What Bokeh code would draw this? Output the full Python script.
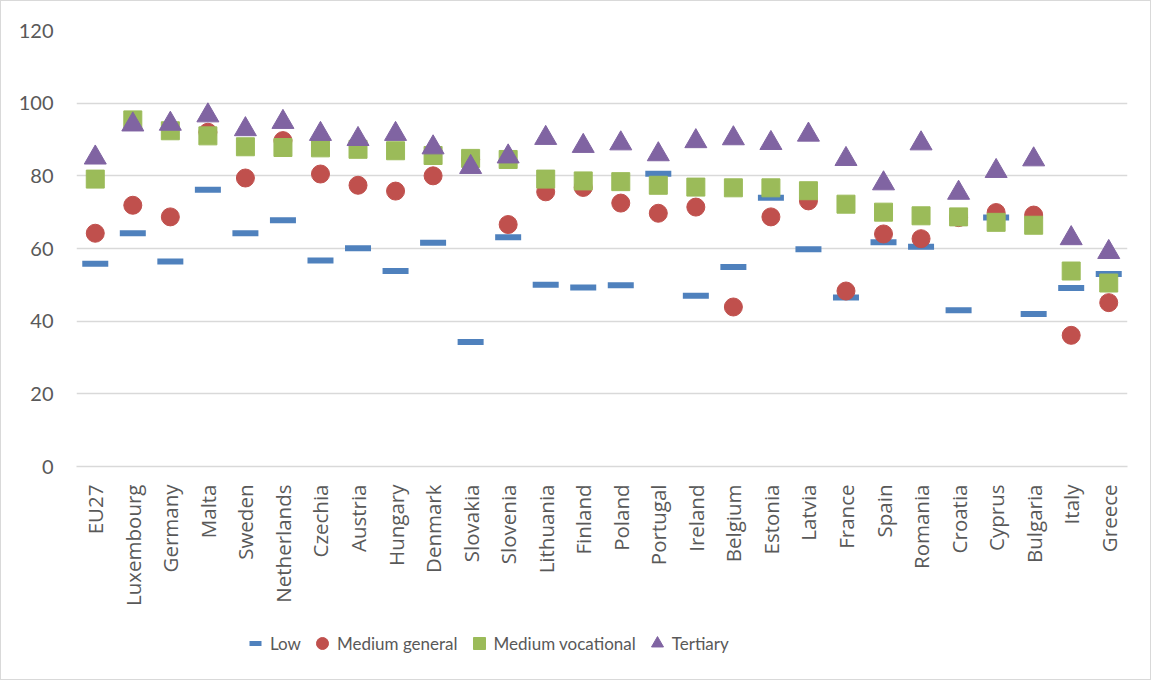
from math import pi
from bokeh.plotting import figure
from bokeh.layouts import column
from bokeh.models import ColumnDataSource, Range1d, FactorRange, Legend, LegendItem, FixedTicker
from bokeh.embed import file_html
from bokeh.resources import INLINE

countries = ["EU27", "Luxembourg", "Germany", "Malta", "Sweden", "Netherlands", "Czechia",
             "Austria", "Hungary", "Denmark", "Slovakia", "Slovenia", "Lithuania", "Finland",
             "Poland", "Portugal", "Ireland", "Belgium", "Estonia", "Latvia", "France", "Spain",
             "Romania", "Croatia", "Cyprus", "Bulgaria", "Italy", "Greece"]

low = [55.8, 64.2, 56.4, 76.2, 64.2, 67.8, 56.7, 60.1, 53.8, 61.6, 34.3, 63.1, 50.0, 49.3,
       49.9, 80.6, 47.0, 54.9, 74.0, 59.8, 46.5, 61.7, 60.5, 43.0, 68.5, 42.0, 49.1, 53.0]
medium_general = [64.2, 71.9, 68.7, 92.0, 79.4, 89.7, 80.5, 77.4, 75.8, 80.0, 84.5, 66.6, 75.6, 76.8,
                  72.5, 69.7, 71.4, 43.9, 68.7, 73.1, 48.3, 64.0, 62.7, 68.5, 69.9, 69.2, 36.1, 45.1]
medium_vocational = [79.1, 95.4, 92.4, 91.0, 88.0, 87.8, 87.7, 87.3, 86.9, 85.6, 84.8, 84.5, 79.1, 78.6,
                     78.4, 77.4, 76.9, 76.7, 76.7, 75.9, 72.2, 70.0, 69.0, 68.7, 67.2, 66.4, 53.8, 50.5]
tertiary = [85.0, 94.1, 94.3, 96.6, 92.8, 94.8, 91.5, 90.1, 91.5, 87.8, 82.4, 85.3, 90.4, 88.2,
            88.9, 85.9, 89.5, 90.3, 89.0, 91.3, 84.6, 77.9, 88.9, 75.3, 81.3, 84.5, 62.8, 59.0]
y_ticks = [0, 20, 40, 60, 80, 100, 120]
series_names = ["Low", "Medium general", "Medium vocational", "Tertiary"]

TXT = "#595959"
GRID = "#D9D9D9"
C_LOW, C_MG, C_MV, C_TER = "#4F81BD", "#C0504D", "#9BBB59", "#8064A2"

src = ColumnDataSource(dict(country=countries, low=low, mg=medium_general,
                            mv=medium_vocational, ter=tertiary))

p = figure(width=1149, height=607,
           x_range=FactorRange(*countries, range_padding=0),
           y_range=Range1d(0, 120),
           output_backend="svg", toolbar_location=None,
           min_border_left=75, min_border_right=23, min_border_top=29, min_border_bottom=136)
p.outline_line_color = None
p.background_fill_color = "white"

p.xgrid.visible = False
p.ygrid.grid_line_color = GRID
p.ygrid.grid_line_width = 1.3

p.yaxis.ticker = FixedTicker(ticks=y_ticks)
p.yaxis.axis_line_color = None
p.yaxis.major_tick_line_color = None
p.yaxis.minor_tick_line_color = None
p.yaxis.major_label_standoff = 17
p.yaxis.major_label_text_font = "Lato"
p.yaxis.major_label_text_font_size = "20px"
p.yaxis.major_label_text_color = TXT

p.xaxis.axis_line_color = GRID
p.xaxis.axis_line_width = 1.3
p.xaxis.major_tick_line_color = None
p.xaxis.minor_tick_line_color = None
p.xaxis.major_label_orientation = pi / 2
p.xaxis.major_label_standoff = 12
p.xaxis.major_label_text_font = "Open Sans"
p.xaxis.major_label_text_font_size = "20.5px"
p.xaxis.major_label_text_color = TXT

p.scatter(x="country", y="low", source=src, marker="dash", size=26, line_width=6, line_color=C_LOW)
p.scatter(x="country", y="mg", source=src, marker="circle", size=18, fill_color=C_MG, line_color=C_MG)
p.scatter(x="country", y="mv", source=src, marker="square", size=18, fill_color=C_MV, line_color=C_MV)
p.scatter(x="country", y="ter", source=src, marker="triangle", size=22, fill_color=C_TER, line_color=C_TER)

# legend strip (legend-only glyphs, no visible data points)
lg = figure(width=1149, height=71, x_range=Range1d(0, 1), y_range=Range1d(0, 1),
            x_axis_type=None, y_axis_type=None, output_backend="svg", toolbar_location=None,
            min_border=0)
lg.outline_line_color = None
lg.xgrid.visible = False
lg.ygrid.visible = False
nan = float("nan")


def _src():
    return ColumnDataSource(dict(x=[nan], y=[nan]))


g_low = lg.scatter(x="x", y="y", source=_src(), marker="dash", size=26, line_width=5, line_color=C_LOW)
g_mg = lg.scatter(x="x", y="y", source=_src(), marker="circle", size=18, fill_color=C_MG, line_color=C_MG)
g_mv = lg.scatter(x="x", y="y", source=_src(), marker="square", size=18, fill_color=C_MV, line_color=C_MV)
g_ter = lg.scatter(x="x", y="y", source=_src(), marker="triangle", size=22, fill_color=C_TER, line_color=C_TER)

legend = Legend(items=[LegendItem(label=n, renderers=[r]) for n, r in
                       zip(series_names, [g_low, g_mg, g_mv, g_ter])],
                orientation="horizontal", location=(164, 21),
                glyph_width=30, glyph_height=30, label_standoff=0, spacing=6,
                padding=0, margin=0, border_line_color=None, background_fill_alpha=0,
                label_text_font="Lato", label_text_font_size="17px", label_text_color=TXT)
lg.add_layout(legend)

layout = column(p, lg, spacing=0, styles={"border": "1px solid #D9D9D9"})
open("out.html", "w").write(file_html(layout, INLINE))
